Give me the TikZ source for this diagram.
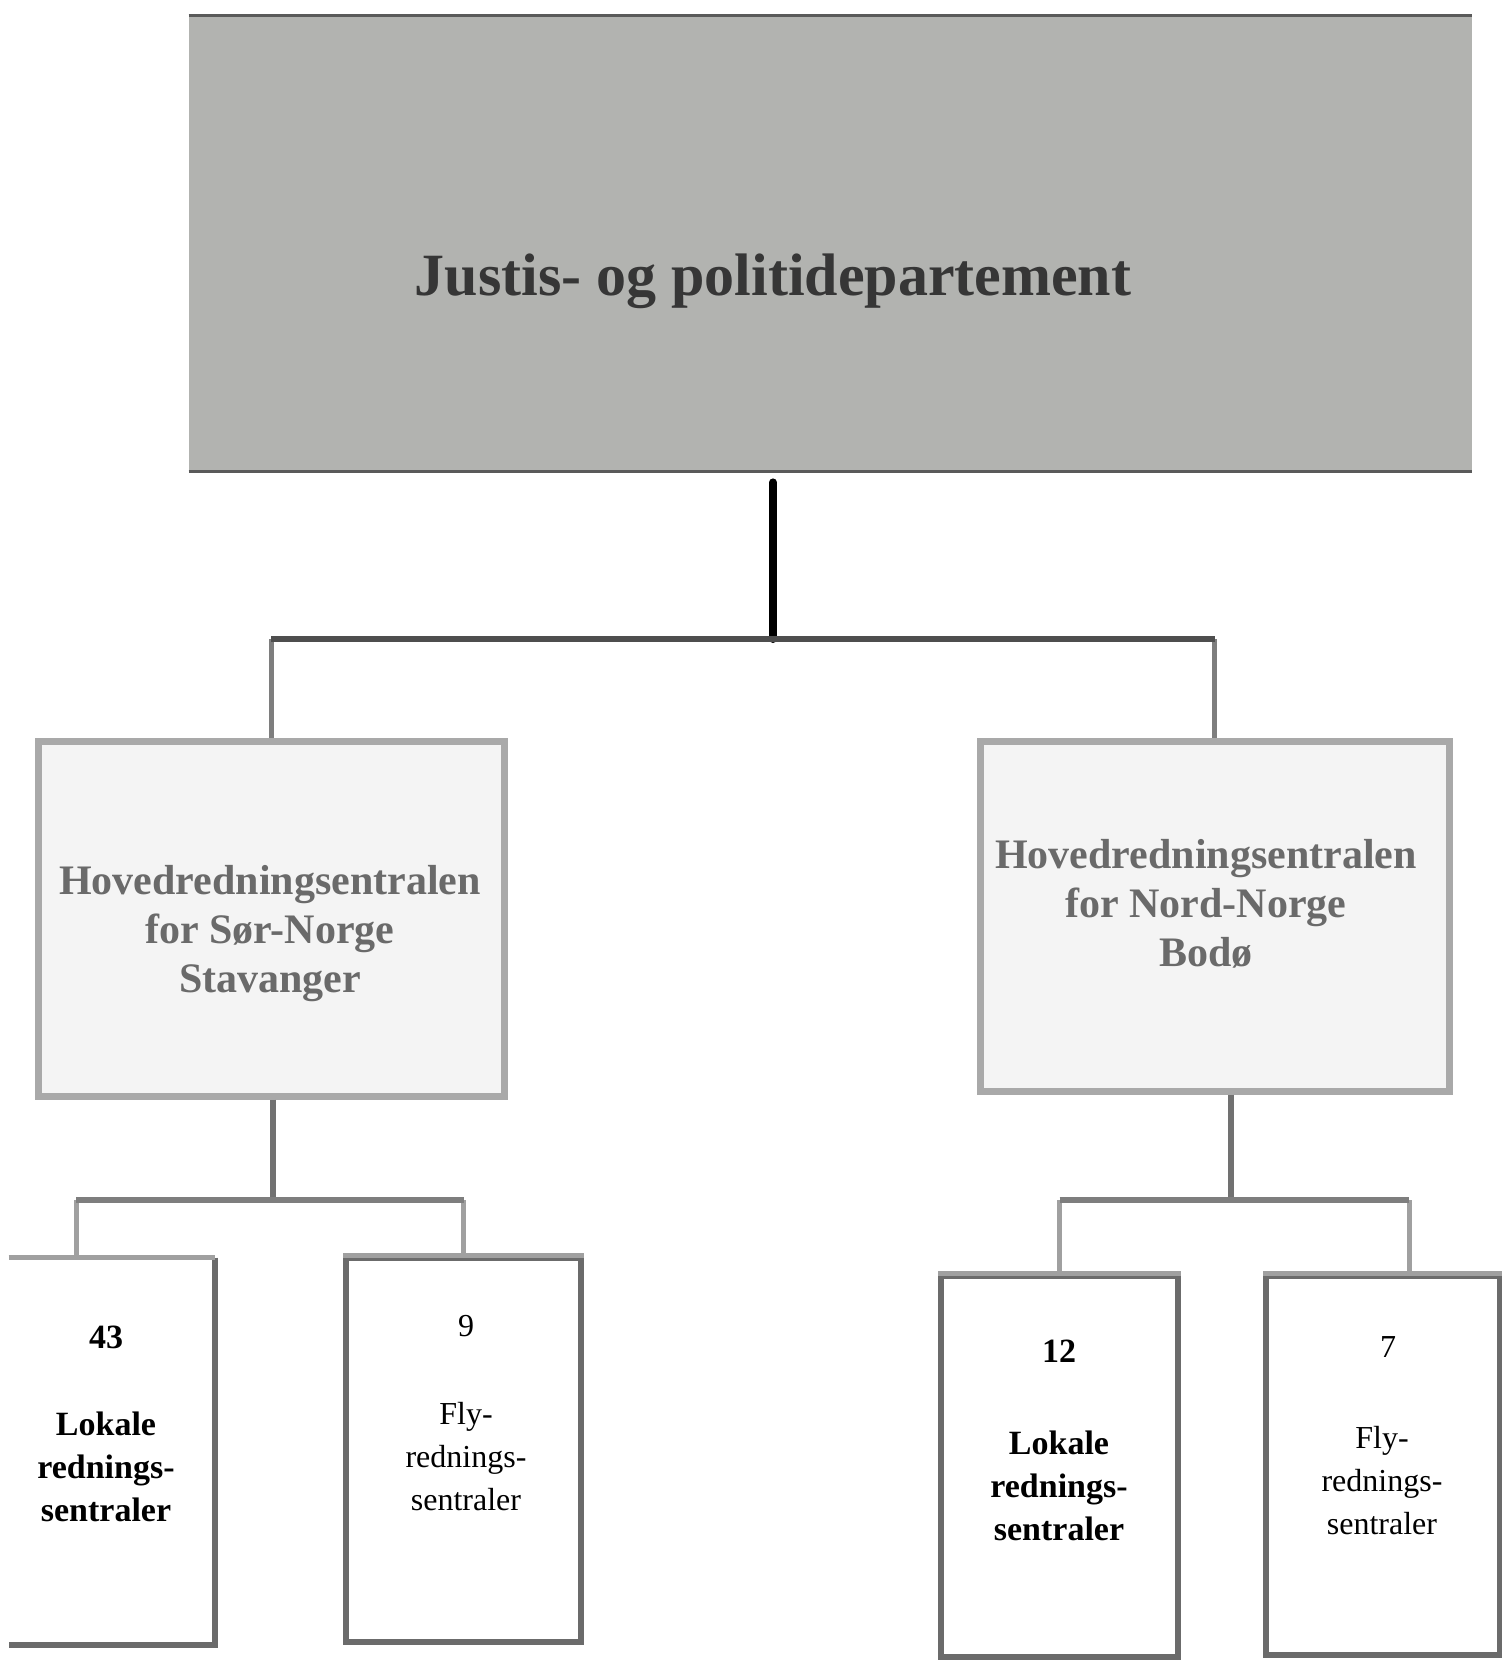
\documentclass[tikz,border=0pt]{standalone}
\usepackage{fontspec}
\setmainfont{Liberation Serif}
\definecolor{topgray}{HTML}{B2B3B0}
\definecolor{topedge}{HTML}{5A5A5A}
\definecolor{titlecol}{HTML}{363636}
\definecolor{midfill}{HTML}{F4F4F4}
\definecolor{midborder}{HTML}{A9A9A9}
\definecolor{midtext}{HTML}{6A6A6A}
\definecolor{lowborder}{HTML}{6B6B6B}
\definecolor{lowtop}{HTML}{A0A0A0}
\definecolor{busdark}{HTML}{4E4E4E}
\definecolor{dropgray}{HTML}{7E7E7E}
\begin{document}
\begin{tikzpicture}[x=0.5pt,y=-0.5pt,
  topbox/.style={fill=topgray, draw=none, inner sep=0pt, minimum width=641.5pt, minimum height=227.5pt},
  midbox/.style={fill=midfill, draw=midborder, line width=3.5pt, inner sep=0pt},
  lowbox/.style={fill=white, draw=lowborder, line width=3pt, inner sep=0pt},
  lowboxopen/.style={fill=white, draw=none, inner sep=0pt},
  titletext/.style={font=\fontsize{30}{34}\selectfont\bfseries, text=titlecol, inner sep=0pt},
  midtextstyle/.style={font=\fontsize{21}{24.5}\selectfont\bfseries, text=midtext, align=center, inner sep=0pt},
  lownumb/.style={font=\fontsize{17}{21.5}\selectfont\bfseries, inner sep=0pt},
  lowtextb/.style={font=\fontsize{17}{21.5}\selectfont\bfseries, align=center, inner sep=0pt},
  lownumr/.style={font=\fontsize{16}{21.5}\selectfont, inner sep=0pt},
  lowtextr/.style={font=\fontsize{16}{21.5}\selectfont, align=center, inner sep=0pt},
  mainconn/.style={draw=black, line width=4pt, line cap=round},
  busline/.style={draw=busdark, line width=3pt},
  dropline/.style={draw=dropgray, line width=2.5pt},
  subconn/.style={draw=dropgray!90!black, line width=3pt},
  subbus/.style={draw=dropgray, line width=3pt},
  subdrop/.style={draw=lowtop, line width=2.5pt},
  topedgeline/.style={draw=lowtop, line width=2.5pt}
]
\useasboundingbox (0,0) rectangle (1502,1661);
\fill[white] (0,0) rectangle (1502,1661);

% top box
\node[topbox] (top) at (830.5,243.5) {};
\draw[topedge, line width=1.2pt] (top.north west) -- (top.north east);
\draw[topedge, line width=1.2pt] (top.south west) -- (top.south east);
\node[titletext] (toptext) at (773,281) {Justis- og politidepartement};

% middle boxes
\node[midbox, minimum width=233pt, minimum height=177.5pt] (mL) at (271,918.5) {};
\node[midbox, minimum width=234.5pt, minimum height=175pt] (mR) at (1214.5,916) {};
\node[midtextstyle] (mLtext) at (270,934) {Hovedredningsentralen\\for Sør-Norge\\Stavanger};
\node[midtextstyle] (mRtext) at (1206,904) {Hovedredningsentralen\\for Nord-Norge\\Bodø};

% connectors top -> middle
\coordinate (j0) at (773,639);
\draw[mainconn] ([yshift=-5.5pt]top.south -| j0) -- (j0);
\draw[dropline] (mL.north |- j0) -- (mL.north);
\draw[dropline] (mR.north |- j0) -- (mR.north);
\draw[busline] (mL.north |- j0) -- (mR.north |- j0);

% lower boxes
\node[lowboxopen, minimum width=103pt, minimum height=193.5pt] (n43) at (112,1451.5) {};
\draw[lowborder, line width=3pt] (n43.north east) -- (n43.south east) -- (n43.south west);
\node[lowbox, minimum width=117.5pt, minimum height=192pt] (n9) at (463.5,1450) {};
\node[lowbox, minimum width=118.5pt, minimum height=190.5pt] (n12) at (1059.5,1466.5) {};
\node[lowbox, minimum width=117pt, minimum height=189.5pt] (n7) at (1383,1465.5) {};
\draw[topedgeline] (n43.north west) -- (n43.north east);
\draw[topedgeline] (n9.north west) -- (n9.north east);
\draw[topedgeline] (n12.north west) -- (n12.north east);
\draw[topedgeline] (n7.north west) -- (n7.north east);

% texts in lower boxes
\node[lownumb] (t43) at (106,1337) {43};
\node[lowtextb] (t43b) at (106,1467) {Lokale\\rednings-\\sentraler};
\node[lownumr] (t9) at (466,1326) {9};
\node[lowtextr] (t9b) at (466,1457) {Fly-\\rednings-\\sentraler};
\node[lownumb] (t12) at (1059,1351) {12};
\node[lowtextb] (t12b) at (1059,1486) {Lokale\\rednings-\\sentraler};
\node[lownumr] (t7) at (1388,1347) {7};
\node[lowtextr] (t7b) at (1382,1481) {Fly-\\rednings-\\sentraler};

% lower-left connectors
\coordinate (j1) at (273,1200);
\coordinate (d43) at (76,1258);
\draw[subconn] (mL.south -| j1) -- (j1);
\draw[subdrop] (d43 |- j1) -- (d43);
\draw[subdrop] (n9.north |- j1) -- (n9.north);
\draw[subbus] (d43 |- j1) -- (n9.north |- j1);

% lower-right connectors
\coordinate (j2) at (1231,1200);
\coordinate (d7) at (1409,1276);
\draw[subconn] (mR.south -| j2) -- (j2);
\draw[subdrop] (n12.north |- j2) -- (n12.north);
\draw[subdrop] (d7 |- j2) -- (d7);
\draw[subbus] (n12.north |- j2) -- (d7 |- j2);
\end{tikzpicture}
\end{document}
